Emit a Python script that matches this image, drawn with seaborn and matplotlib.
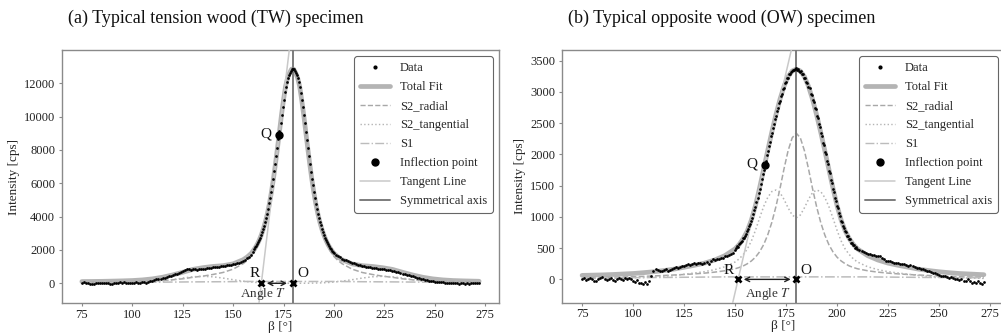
import numpy as np
import matplotlib
matplotlib.use("Agg")
import matplotlib.pyplot as plt
from matplotlib.lines import Line2D
import seaborn as sns

# ---------------- (a) tension wood specimen ----------------
# peak-fit components, sampled on a non-uniform angle grid
tw_fit_angle = ([75, 80, 85, 90, 95, 100, 105, 110, 115, 120, 125, 130, 135, 140,
                 145, 150, 155, 157, 159]
                + list(range(160, 200))
                + [200, 202, 204, 209, 214, 219, 224, 229, 234, 239, 244, 249,
                   254, 259, 264, 269, 272])
tw_s2_radial = ([60, 65, 70, 80, 90, 100, 115, 135, 165, 210, 270, 360, 430, 530,
                 650, 850, 1180, 1370, 1610]
                + [1780, 1970, 2190, 2450, 2760, 3120, 3550, 4050, 4650, 5350,
                   6150, 7050, 8000, 9000, 10000, 10900, 11700, 12210, 12520, 12740]
                + [12740, 12520, 12210, 11700, 10900, 10000, 9000, 8000, 7050, 6150,
                   5350, 4650, 4050, 3550, 3120, 2760, 2450, 2190, 1970, 1780]
                + [1610, 1370, 1180, 850, 650, 530, 430, 360, 270, 210, 165, 135,
                   115, 100, 90, 80, 73])
tw_s2_tangential = ([0, 0, 0, 1, 4, 11, 29, 66, 129, 216, 313, 390, 420, 390,
                     313, 216, 129, 100, 76]
                    + [66, 56, 47, 41, 35, 29, 24, 20, 17, 14, 11, 9, 7, 6, 5, 4,
                       3, 3, 2, 2]
                    + [2, 2, 3, 3, 4, 5, 6, 7, 9, 11, 14, 17, 20, 24, 29, 35, 41,
                       47, 56, 66]
                    + [76, 100, 129, 216, 313, 390, 420, 390, 313, 216, 129, 66,
                       29, 11, 4, 1, 0])
tw_s1 = ([45, 46, 48, 50, 52, 55, 60, 65, 70, 75, 80, 85, 88, 92, 95, 100, 108,
          110, 110]
         + [110] * 40
         + [110, 110, 108, 100, 95, 92, 88, 85, 80, 75, 70, 65, 60, 55, 52, 50, 49])

# measured intensity
tw_angle_low = np.arange(75, 160)            # 1 deg steps
tw_angle_peak = np.arange(160, 200.01, 0.5)  # 0.5 deg steps
tw_angle_high = np.arange(201, 273)          # 1 deg steps
tw_counts_low = [30, 60, 40, 10, -40, -60, -20, 10, 0, 20,
                 -10, 0, 30, 10, -30, -50, -10, 20, 40, 60,
                 30, 50, 20, 0, 10, -10, 30, 60, 40, 30,
                 70, 50, 40, 90, 130, 160, 200, 240, 230, 260,
                 310, 340, 390, 420, 460, 500, 540, 580, 640, 700,
                 740, 790, 830, 850, 820, 830, 840, 810, 830, 850,
                 870, 880, 900, 910, 930, 950, 960, 990, 1000, 1010,
                 1030, 1040, 1070, 1080, 1100, 1150, 1170, 1200, 1230, 1280,
                 1340, 1410, 1500, 1600, 1720]
tw_counts_peak = [1900, 2060, 2150, 2230, 2330, 2480, 2620, 2740, 2880, 3100,
                  3280, 3460, 3700, 3920, 4160, 4480, 4790, 5100, 5490, 5860,
                  6250, 6720, 7180, 7620, 8100, 8640, 9130, 9600, 10100, 10580,
                  11000, 11450, 11800, 12100, 12330, 12500, 12640, 12760, 12850, 12880,
                  12840, 12760, 12620, 12480, 12300, 12090, 11800, 11430, 11020, 10560,
                  10110, 9610, 9100, 8610, 8130, 7640, 7150, 6700, 6260, 5870,
                  5480, 5110, 4780, 4450, 4170, 3930, 3690, 3480, 3250, 3080,
                  2920, 2740, 2610, 2470, 2330, 2230, 2140, 2040, 1950, 1880,
                  1810]
tw_counts_high = [1720, 1640, 1560, 1480, 1420, 1370, 1320, 1270, 1230, 1190,
                  1150, 1110, 1090, 1060, 1030, 1000, 980, 960, 940, 920,
                  900, 880, 870, 850, 840, 820, 800, 790, 760, 730,
                  690, 650, 610, 580, 560, 520, 480, 440, 410, 370,
                  340, 300, 270, 240, 210, 180, 160, 140, 120, 100,
                  80, 70, 60, 50, 40, 20, 10, 30, 40, 20,
                  0, -20, 10, -10, -30, 0, -20, 10, -10, 20,
                  0, 20]
tw_inflection = (172.8, 8900)   # Q
tw_tangent_root = 164.0         # R (tangent meets zero intensity)
tw_sym_axis = 179.5             # O

# ---------------- (b) opposite wood specimen ----------------
ow_fit_angle = (list(range(75, 150, 5)) + list(range(150, 211, 2))
                + list(range(215, 271, 5)) + [272])
ow_s2_radial = ([27, 29, 31, 34, 38, 42, 48, 55, 62, 70, 78, 88, 100, 116, 138]
                + [170, 190, 215, 250, 295, 355, 440, 555, 710, 910, 1160, 1450,
                   1770, 2060, 2265]
                + [2340]
                + [2265, 2060, 1770, 1450, 1160, 910, 710, 555, 440, 355, 295, 250,
                   215, 190, 170]
                + [138, 116, 100, 88, 78, 70, 62, 55, 48, 42, 38, 34]
                + [33])
ow_s2_tangential = ([12, 14, 16, 18, 21, 24, 30, 37, 48, 62, 82, 102, 123, 156, 202]
                    + [278, 328, 397, 485, 615, 785, 980, 1165, 1310, 1405, 1430,
                       1390, 1280, 1145, 1030]
                    + [985]
                    + [1030, 1145, 1280, 1390, 1430, 1405, 1310, 1165, 980, 785,
                       615, 485, 397, 328, 278]
                    + [202, 156, 123, 102, 82, 62, 48, 37, 30, 24, 21, 18]
                    + [16])
ow_s1 = ([25, 25, 25, 26, 27, 28, 29, 30, 31, 32, 34, 35, 37, 38, 40]
         + [40] * 31
         + [40, 38, 37, 35, 34, 32, 31, 30, 29, 28, 27, 26]
         + [26])

ow_angle_low = np.arange(75, 150)
ow_angle_peak = np.arange(150, 210.01, 0.5)
ow_angle_high = np.arange(211, 273)
ow_counts_low = [10, 20, -10, 0, 20, 10, -20, -30, 0, 30,
                 40, 10, -10, 0, 20, -10, -20, 10, 30, 0,
                 -10, 20, 10, 30, 10, -20, -40, -10, -60, -50,
                 -70, -40, -80, -30, 60, 130, 160, 150, 140, 130,
                 150, 160, 140, 150, 170, 180, 200, 190, 200, 220,
                 210, 230, 240, 230, 250, 260, 250, 270, 260, 250,
                 270, 280, 250, 290, 320, 310, 330, 320, 340, 350,
                 370, 380, 390, 410, 430]
ow_counts_peak = [470, 500, 530, 525, 560, 590, 595, 620, 660, 670,
                  700, 730, 770, 800, 850, 890, 930, 990, 1040, 1110,
                  1160, 1240, 1300, 1380, 1440, 1530, 1600, 1690, 1750, 1840,
                  1900, 1990, 2050, 2130, 2200, 2290, 2340, 2430, 2480, 2570,
                  2610, 2700, 2740, 2830, 2860, 2940, 2970, 3050, 3070, 3140,
                  3160, 3220, 3230, 3280, 3290, 3320, 3330, 3350, 3350, 3370,
                  3380, 3350, 3360, 3340, 3320, 3330, 3280, 3290, 3230, 3220,
                  3160, 3150, 3080, 3060, 2970, 2950, 2870, 2840, 2740, 2720,
                  2610, 2580, 2480, 2440, 2340, 2300, 2190, 2150, 2040, 2000,
                  1890, 1850, 1740, 1700, 1590, 1550, 1440, 1400, 1300, 1260,
                  1170, 1140, 1060, 1020, 940, 920, 850, 830, 770, 760,
                  700, 690, 640, 640, 590, 590, 550, 550, 510, 515,
                  480]
ow_counts_high = [470, 450, 440, 420, 410, 400, 390, 395, 380, 370,
                  380, 350, 320, 300, 290, 300, 280, 270, 260, 270,
                  250, 240, 250, 230, 220, 230, 220, 200, 190, 180,
                  170, 160, 150, 140, 130, 120, 110, 100, 80, 70,
                  60, 50, 60, 40, 30, 40, 30, 10, 0, -10,
                  10, -20, -30, 0, -20, -50, -40, -60, -30, -50,
                  -70, -40]
ow_inflection = (164.5, 1830)
ow_tangent_root = 151.5
ow_sym_axis = 180.0

# ---------------- styling ----------------
sns.set_style("ticks")
plt.rcParams["font.family"] = ["Liberation Serif", "DejaVu Serif"]
plt.rcParams["mathtext.fontset"] = "stix"

C_TOTAL = "#b4b4b4"
C_RADIAL = "#a8a8a8"
C_TANG = "#b4b4b4"
C_S1 = "#bcbcbc"
C_TANLINE = "#c9c9c9"
C_AXIS = "#7c7c7c"
C_FRAME = "#8a8a8a"

W, H = 1001, 334
fig = plt.figure(figsize=(W / 100, H / 100), dpi=100)
ax_a = fig.add_axes([62 / W, (H - 303.3) / H, 437 / W, 253.3 / H])
ax_b = fig.add_axes([562 / W, (H - 302.5) / H, 442 / W, 252.5 / H])


def draw_panel(ax, fit_angle, radial, tangential, s1, angles, counts,
               inflection, root, sym_axis, ylim, yticks, title,
               angle_text_pos, label_offsets):
    fit_angle = np.asarray(fit_angle, dtype=float)
    radial = np.asarray(radial, dtype=float)
    tangential = np.asarray(tangential, dtype=float)
    s1 = np.asarray(s1, dtype=float)
    total = radial + tangential + s1

    sns.lineplot(x=fit_angle, y=total, ax=ax, color=C_TOTAL, lw=3.4,
                 solid_capstyle="round", zorder=2)
    sns.lineplot(x=fit_angle, y=radial, ax=ax, color=C_RADIAL, lw=1.1,
                 linestyle="--", zorder=3)
    sns.lineplot(x=fit_angle, y=tangential, ax=ax, color=C_TANG, lw=1.1,
                 linestyle=":", zorder=3)
    sns.lineplot(x=fit_angle, y=s1, ax=ax, color=C_S1, lw=1.1,
                 linestyle="-.", zorder=3)

    ax.axline((root, 0), inflection, color=C_TANLINE, lw=1.1, zorder=3)
    ax.axvline(sym_axis, color=C_AXIS, lw=1.4, zorder=3)

    sns.scatterplot(x=np.concatenate(angles), y=np.concatenate(counts), ax=ax,
                    s=3.8, color="black", linewidth=0, zorder=4)

    ax.plot([inflection[0]], [inflection[1]], "o", color="black", ms=5, zorder=6)
    ax.plot([root, sym_axis], [0, 0], "x", color="black", ms=5, mew=2, zorder=6)
    ax.annotate("", xy=(root, 0), xytext=(sym_axis, 0),
                arrowprops=dict(arrowstyle="<->", color="#222222", lw=1.0,
                                shrinkA=4, shrinkB=4, mutation_scale=8),
                zorder=5)

    (rq, ro, rr) = label_offsets
    ax.annotate("Q", inflection, xytext=rq, textcoords="offset pixels",
                ha="center", va="center", fontsize=11, color="#111111")
    ax.annotate("R", (root, 0), xytext=rr, textcoords="offset pixels",
                ha="center", va="center", fontsize=11, color="#111111")
    ax.annotate("O", (sym_axis, 0), xytext=ro, textcoords="offset pixels",
                ha="center", va="center", fontsize=11, color="#111111")
    ax.text(angle_text_pos[0], angle_text_pos[1], "Angle $T$", ha="center",
            va="center", fontsize=9.5, color="#333333")

    ax.set_xlim(65.15, 281.85)
    ax.set_ylim(*ylim)
    ax.set_xticks([75, 100, 125, 150, 175, 200, 225, 250, 275])
    ax.set_yticks(yticks)
    ax.set_xlabel("β [°]", fontsize=9.5, labelpad=0)
    ax.set_ylabel("Intensity [cps]", fontsize=9.5, labelpad=3)
    ax.tick_params(labelsize=9, colors="#222222", length=2.5, width=0.8)
    ax.tick_params(axis="x", pad=1.5)
    ax.tick_params(axis="y", pad=2.5)
    ax.tick_params(axis="both", color=C_FRAME)
    for sp in ax.spines.values():
        sp.set_color(C_FRAME)
        sp.set_linewidth(1.0)
        sp.set_visible(True)

    handles = [
        Line2D([], [], ls="none", marker="o", ms=2, color="black"),
        Line2D([], [], color=C_TOTAL, lw=3.4),
        Line2D([], [], color=C_RADIAL, lw=1.0, ls="--"),
        Line2D([], [], color=C_TANG, lw=1.0, ls=":"),
        Line2D([], [], color=C_S1, lw=1.0, ls="-."),
        Line2D([], [], ls="none", marker="o", ms=5, color="black"),
        Line2D([], [], color=C_TANLINE, lw=1.1),
        Line2D([], [], color=C_AXIS, lw=1.4),
    ]
    labels = ["Data", "Total Fit", "S2_radial", "S2_tangential", "S1",
              "Inflection point", "Tangent Line", "Symmetrical axis"]
    leg = ax.legend(handles, labels, loc="upper right", fontsize=9,
                    frameon=True, fancybox=True, framealpha=1,
                    edgecolor="#666666", handlelength=2.4, handletextpad=0.8,
                    labelspacing=0.56, borderpad=0.45)
    leg.get_frame().set_linewidth(0.8)

    ax.text(6 / 437, 1 + 32 / 253, title, transform=ax.transAxes,
            ha="left", va="center", fontsize=13, color="#111111")


draw_panel(ax_a, tw_fit_angle, tw_s2_radial, tw_s2_tangential, tw_s1,
           [tw_angle_low, tw_angle_peak, tw_angle_high],
           [tw_counts_low, tw_counts_peak, tw_counts_high],
           tw_inflection, tw_tangent_root, tw_sym_axis,
           (-1200, 14000), [0, 2000, 4000, 6000, 8000, 10000, 12000],
           "(a) Typical tension wood (TW) specimen",
           (165.0, -620), ((-13, 1), (10, 10), (-7, 10)))

draw_panel(ax_b, ow_fit_angle, ow_s2_radial, ow_s2_tangential, ow_s1,
           [ow_angle_low, ow_angle_peak, ow_angle_high],
           [ow_counts_low, ow_counts_peak, ow_counts_high],
           ow_inflection, ow_tangent_root, ow_sym_axis,
           (-370, 3671), [0, 500, 1000, 1500, 2000, 2500, 3000, 3500],
           "(b) Typical opposite wood (OW) specimen",
           (166.1, -230), ((-13, 1), (10, 9), (-9, 9)))

fig.savefig("out.png", dpi=100, facecolor="white")
